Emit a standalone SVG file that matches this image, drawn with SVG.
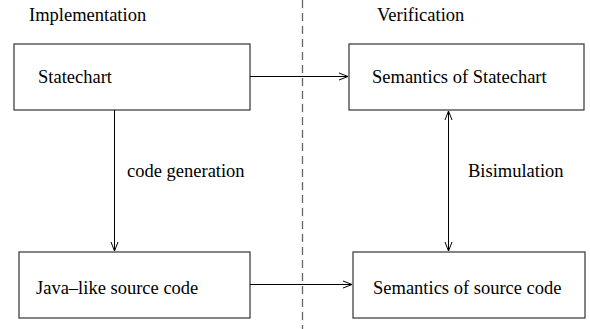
<svg xmlns="http://www.w3.org/2000/svg" width="590" height="329" viewBox="0 0 590 329">
<style>
text{font-size:18.5px;fill:#000}
.box{fill:#fff;stroke:#333;stroke-width:1.2}
.conn{stroke:#000;stroke-width:1;fill:none}
</style>
<defs>
<marker id="ah" markerWidth="12" markerHeight="10" refX="10" refY="5" orient="auto-start-reverse" markerUnits="userSpaceOnUse">
<path d="M1,1.5 L10,5 L1,8.5" fill="none" stroke="#000" stroke-width="1"/>
</marker>
</defs>
<rect width="590" height="329" fill="#fff"/>
<g font-family="Liberation Serif, Times New Roman, Times, serif">
<line x1="302.5" y1="0" x2="302.5" y2="329" stroke="#666" stroke-width="1.3" stroke-dasharray="8,5"/>
<text x="29" y="21">Implementation</text>
<text x="377" y="21">Verification</text>
<g id="statechart"><rect class="box" x="14" y="44" width="236" height="66"/><text x="38" y="83">Statechart</text></g>
<g id="sem-statechart"><rect class="box" x="349" y="44" width="235" height="66"/><text x="372" y="83">Semantics of Statechart</text></g>
<g id="java"><rect class="box" x="19" y="252" width="231" height="66"/><text x="36" y="294">Java–like source code</text></g>
<g id="sem-source"><rect class="box" x="353" y="252" width="232" height="66"/><text x="373" y="294">Semantics of source code</text></g>
<g id="connectors">
<line class="conn" x1="250" y1="76.5" x2="348" y2="76.5" marker-end="url(#ah)"/>
<line class="conn" x1="250" y1="284.5" x2="352" y2="284.5" marker-end="url(#ah)"/>
<line class="conn" x1="114.5" y1="110" x2="114.5" y2="251" marker-end="url(#ah)"/>
<line class="conn" x1="448.5" y1="111" x2="448.5" y2="251" marker-start="url(#ah)" marker-end="url(#ah)"/>
<text x="127" y="177">code generation</text>
<text x="468" y="177">Bisimulation</text>
</g>
</g>
</svg>
